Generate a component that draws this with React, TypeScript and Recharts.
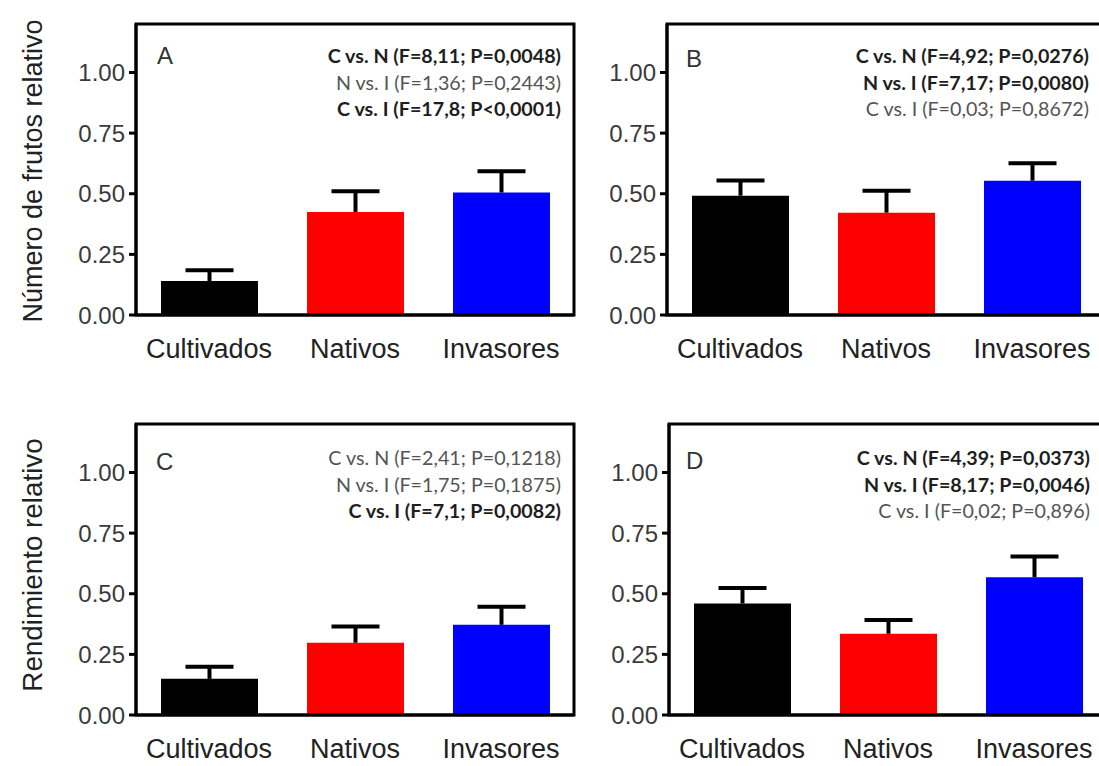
import React from "react";
import { BarChart, Bar, XAxis, YAxis, Cell, ReferenceArea } from "recharts";

const categories = ["Cultivados", "Nativos", "Invasores"];
const barColors = ["#000000", "#ff0000", "#0000ff"];
const yTicks = [0, 0.25, 0.5, 0.75, 1];

// media y error estándar (solo la mitad superior se dibuja)
const meanA = [0.14, 0.425, 0.505];
const errA = [0.045, 0.085, 0.088];
const meanB = [0.492, 0.422, 0.554];
const errB = [0.063, 0.09, 0.072];
const meanC = [0.149, 0.298, 0.372];
const errC = [0.05, 0.067, 0.074];
const meanD = [0.46, 0.335, 0.568];
const errD = [0.064, 0.057, 0.086];

const statsA = [
  { text: "C vs. N (F=8,11; P=0,0048)", bold: true },
  { text: "N vs. I (F=1,36; P=0,2443)", bold: false },
  { text: "C vs. I (F=17,8; P<0,0001)", bold: true },
];
const statsB = [
  { text: "C vs. N (F=4,92; P=0,0276)", bold: true },
  { text: "N vs. I (F=7,17; P=0,0080)", bold: true },
  { text: "C vs. I (F=0,03; P=0,8672)", bold: false },
];
const statsC = [
  { text: "C vs. N (F=2,41; P=0,1218)", bold: false },
  { text: "N vs. I (F=1,75; P=0,1875)", bold: false },
  { text: "C vs. I (F=7,1; P=0,0082)", bold: true },
];
const statsD = [
  { text: "C vs. N (F=4,39; P=0,0373)", bold: true },
  { text: "N vs. I (F=8,17; P=0,0046)", bold: true },
  { text: "C vs. I (F=0,02; P=0,896)", bold: false },
];

const axisFont = "'Liberation Sans', Arial, sans-serif";
const statFont = "Lato, 'Open Sans', sans-serif";

const rows = (mean: number[], err: number[]) =>
  categories.map((name, i) => ({ name, mean: mean[i], err: err[i] }));

function ErrorCap(props: any) {
  const { x, y, width, height } = props;
  if (x == null || y == null) return null;
  const cx = x + width / 2;
  return (
    <g stroke="#000" strokeWidth={4}>
      <line x1={cx} y1={y + height} x2={cx} y2={y} />
      <line x1={cx - 24} y1={y} x2={cx + 24} y2={y} />
    </g>
  );
}

function Panel({ mean, err, left, top }: { mean: number[]; err: number[]; left: number; top: number }) {
  return (
    <div style={{ position: "absolute", left, top }}>
      <BarChart width={528} height={351} data={rows(mean, err)} margin={{ top: 10, right: 10, left: 0, bottom: 0 }}>
        <ReferenceArea y1={0} y2={1.2} fill="none" fillOpacity={0} stroke="#000" strokeWidth={3} ifOverflow="visible" />
        <XAxis
          dataKey="name"
          height={50}
          interval={0}
          tickLine={false}
          tickSize={0}
          tickMargin={24}
          axisLine={{ stroke: "#000", strokeWidth: 3 }}
          tick={{ fontSize: 27, fill: "#222", fontFamily: axisFont }}
        />
        <YAxis
          width={80}
          domain={[0, 1.2]}
          ticks={yTicks}
          allowDataOverflow
          tickFormatter={(v: number) => v.toFixed(2)}
          tickSize={7}
          tickMargin={4}
          axisLine={{ stroke: "#000", strokeWidth: 3 }}
          tickLine={{ stroke: "#000", strokeWidth: 3 }}
          tick={{ fontSize: 24, fill: "#3a3a3a", fontFamily: axisFont }}
        />
        <Bar dataKey="mean" stackId="s" barSize={97} isAnimationActive={false}>
          {categories.map((c, i) => (
            <Cell key={c} fill={barColors[i]} />
          ))}
        </Bar>
        <Bar dataKey="err" stackId="s" barSize={97} isAnimationActive={false} shape={<ErrorCap />} />
      </BarChart>
    </div>
  );
}

function Stats({ lines, right, baseline }: { lines: { text: string; bold: boolean }[]; right: number; baseline: number }) {
  return (
    <>
      {lines.map((l, i) => (
        <text
          key={i}
          x={right}
          y={baseline + i * 26.5}
          textAnchor="end"
          fontFamily={statFont}
          fontSize={19.7}
          fontWeight={l.bold ? 700 : 400}
          fill={l.bold ? "#1e1e1e" : "#555"}
        >
          {l.text}
        </text>
      ))}
    </>
  );
}

export default function App() {
  return (
    <div style={{ position: "fixed", left: 0, top: 0, width: 1099, height: 766, overflow: "hidden", background: "#fff" }}>
      <Panel mean={meanA} err={errA} left={56} top={14} />
      <Panel mean={meanB} err={errB} left={587} top={14} />
      <Panel mean={meanC} err={errC} left={56} top={414} />
      <Panel mean={meanD} err={errD} left={589} top={414} />
      <svg width={1099} height={766} style={{ position: "absolute", left: 0, top: 0, pointerEvents: "none" }}>
        <g fontFamily={axisFont} fontSize={24} fill="#333">
          <text x={157} y={64}>A</text>
          <text x={686} y={67}>B</text>
          <text x={156} y={470}>C</text>
          <text x={686} y={469}>D</text>
        </g>
        <g fontFamily={axisFont} fill="#222" textAnchor="middle">
          <text fontSize={27} transform="translate(42,171) rotate(-90)">Número de frutos relativo</text>
          <text fontSize={27.8} transform="translate(42,565) rotate(-90)">Rendimiento relativo</text>
        </g>
        <Stats lines={statsA} right={561} baseline={63} />
        <Stats lines={statsB} right={1089} baseline={63} />
        <Stats lines={statsC} right={561} baseline={465} />
        <Stats lines={statsD} right={1090} baseline={465} />
      </svg>
    </div>
  );
}
